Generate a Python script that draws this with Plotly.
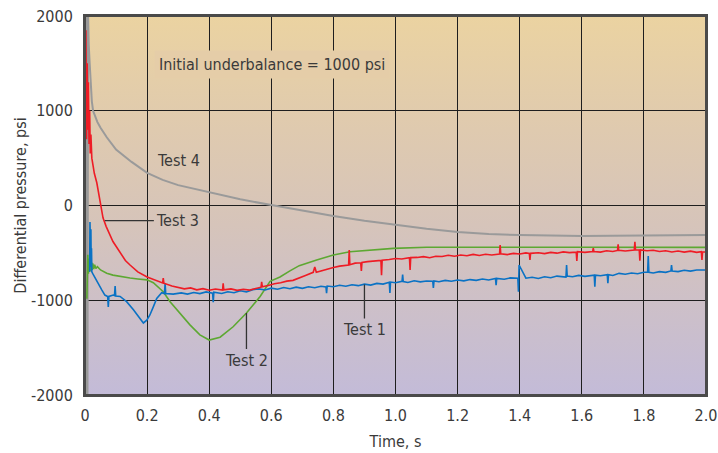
import base64
import plotly.graph_objects as go

# ---------------- data ----------------
x_tickvals = [0, 0.2, 0.4, 0.6, 0.8, 1.0, 1.2, 1.4, 1.6, 1.8, 2.0]
x_ticktext = ["0", "0.2", "0.4", "0.6", "0.8", "1.0", "1.2", "1.4", "1.6", "1.8", "2.0"]
y_tickvals = [-2000, -1000, 0, 1000, 2000]
y_ticktext = ["-2000", "-1000", "0", "1000", "2000"]

# Test 4 (gray)
test4_t = [0.0, 0.002, 0.004, 0.006, 0.008, 0.010, 0.012, 0.015, 0.018, 0.022, 0.026, 0.03,
           0.04, 0.05, 0.07, 0.1, 0.15, 0.2, 0.25, 0.3, 0.4, 0.5, 0.6, 0.7, 0.8, 0.9, 1.0,
           1.1, 1.2, 1.3, 1.4, 1.5, 1.6, 1.7, 1.8, 1.9, 2.0]
test4_v = [-2000, 2000, -2000, 2000, -2000, 2000, 1700, 1500, 1250, 1100, 1000, 960,
           880, 820, 720, 590, 460, 345, 270, 215, 140, 65, 5, -55, -110, -160, -205,
           -245, -280, -300, -312, -318, -322, -320, -318, -314, -312]

# Test 3 (red)
test3_t = [0.003, 0.005, 0.007, 0.009, 0.011, 0.013, 0.015, 0.017, 0.019, 0.022, 0.026, 0.03,
           0.038, 0.048, 0.058, 0.068, 0.08, 0.09, 0.1, 0.113, 0.13, 0.145, 0.17, 0.2, 0.225,
           0.25, 0.252, 0.254, 0.28,
           0.30, 0.32, 0.34, 0.36, 0.38, 0.40, 0.42, 0.443, 0.445, 0.447, 0.47, 0.49, 0.51,
           0.53, 0.55, 0.567, 0.569, 0.571, 0.59, 0.61, 0.63, 0.65, 0.67, 0.69, 0.71, 0.735,
           0.74, 0.745, 0.76, 0.78, 0.80, 0.82, 0.849, 0.851, 0.853, 0.87, 0.888, 0.89, 0.892,
           0.91, 0.93, 0.953, 0.955, 0.957, 0.98, 1.00, 1.02, 1.045, 1.047, 1.049, 1.07, 1.09,
           1.11, 1.13, 1.15, 1.17, 1.19, 1.21, 1.23, 1.25, 1.27, 1.29, 1.31, 1.335, 1.337,
           1.339, 1.36, 1.38, 1.40, 1.42, 1.431, 1.433, 1.435, 1.46, 1.48, 1.50, 1.52, 1.54,
           1.56, 1.582, 1.584, 1.586, 1.61, 1.635, 1.637, 1.639, 1.66, 1.68, 1.70, 1.715,
           1.717, 1.719, 1.74, 1.769, 1.771, 1.773, 1.785, 1.787, 1.789, 1.81, 1.83, 1.85,
           1.87, 1.89, 1.91, 1.93, 1.95, 1.97, 1.985, 1.987, 1.989, 2.0]
test3_v = [1850, 700, 1500, 800, 1300, 650, 1000, 550, 750, 500, 420, 340,
           240, 30, -130, -220, -310, -380, -430, -500, -580, -628, -700, -755, -790,
           -818, -765, -820, -850,
           -865, -880, -870, -890, -878, -895, -882, -893, -820, -890, -880, -896, -884,
           -893, -875, -862, -805, -858, -845, -825, -815, -798, -790, -760, -738, -705,
           -650, -705, -690, -668, -655, -640, -628, -470, -625, -608, -604, -690, -602,
           -592, -588, -580, -735, -578, -570, -560, -565, -552, -680, -550, -548, -540,
           -552, -535, -538, -525, -535, -522, -530, -516, -528, -515, -522, -512, -417,
           -510, -518, -505, -512, -500, -505, -575, -505, -498, -508, -495, -503, -490,
           -497, -492, -586, -488, -495, -485, -450, -485, -492, -478, -486, -474,
           -410, -472, -480, -470, -382, -470, -470, -583, -468, -478, -472, -485,
           -478, -490, -480, -492, -482, -495, -488, -575, -488, -490]

# Test 2 (green)
test2_t = [0.006, 0.009, 0.011, 0.013, 0.015, 0.017, 0.019, 0.021, 0.023, 0.025, 0.028, 0.031,
           0.035, 0.04, 0.05, 0.07, 0.09, 0.12, 0.145, 0.17, 0.2, 0.22, 0.252, 0.274, 0.306,
           0.338, 0.37, 0.40, 0.435, 0.477, 0.52, 0.564, 0.596, 0.628, 0.66, 0.69, 0.746,
           0.8, 0.853, 0.918, 0.993, 1.1, 1.26, 1.4, 1.6, 1.8, 2.0]
test2_v = [-985, -520, -720, -560, -700, -580, -690, -600, -680, -610, -670, -625,
           -665, -645, -680, -715, -735, -755, -765, -775, -785, -815, -910, -1015, -1135,
           -1260, -1365, -1420, -1390, -1280, -1135, -960, -800, -755, -690, -635, -575,
           -522, -488, -470, -452, -440, -437, -440, -440, -440, -442]

# Test 1 (blue)
test1_t = [0.015, 0.016, 0.018, 0.019, 0.020, 0.021, 0.022, 0.025, 0.032, 0.043, 0.054, 0.064,
           0.073, 0.075, 0.077, 0.091, 0.095, 0.097, 0.099, 0.113, 0.134, 0.156, 0.177, 0.188,
           0.199, 0.209, 0.22, 0.231, 0.247, 0.256, 0.258, 0.260, 0.284,
           0.31, 0.33, 0.35, 0.37, 0.39, 0.411, 0.413, 0.415, 0.44, 0.46, 0.48, 0.50, 0.52,
           0.54, 0.56, 0.58, 0.60, 0.62, 0.64, 0.66, 0.68, 0.70, 0.72, 0.74, 0.76, 0.776,
           0.778, 0.78, 0.80, 0.82, 0.84, 0.86, 0.88, 0.90, 0.92, 0.94, 0.96, 0.980, 0.982,
           0.984, 1.00, 1.021, 1.023, 1.025, 1.04, 1.06, 1.08, 1.10, 1.120, 1.122, 1.124,
           1.14, 1.16, 1.18, 1.20, 1.22, 1.24, 1.26, 1.28, 1.30, 1.322, 1.324, 1.326, 1.35,
           1.37, 1.394, 1.396, 1.398, 1.42, 1.44, 1.46, 1.48, 1.50, 1.52, 1.549, 1.551, 1.553,
           1.57, 1.59, 1.61, 1.640, 1.642, 1.644, 1.66, 1.682, 1.684, 1.686, 1.70, 1.72, 1.74,
           1.76, 1.78, 1.80, 1.812, 1.814, 1.816, 1.83, 1.85, 1.87, 1.887, 1.889, 1.891, 1.91,
           1.93, 1.95, 1.97, 2.0]
test1_v = [-700, -175, -520, -250, -650, -450, -700, -720, -765, -820, -890, -945,
           -960, -1070, -960, -945, -950, -850, -955, -960, -1015, -1100, -1190, -1240,
           -1210, -1155, -1070, -980, -920, -930, -820, -930, -935,
           -922, -935, -918, -930, -912, -925, -1020, -915, -928, -910, -920, -900, -912,
           -888, -880, -892, -872, -884, -866, -878, -862, -874, -858, -868, -852, -860,
           -925, -850, -858, -842, -852, -836, -846, -830, -840, -822, -830, -810, -922,
           -808, -815, -800, -730, -803, -812, -794, -806, -797, -800, -870, -796,
           -804, -790, -800, -787, -795, -782, -790, -776, -786, -770, -840, -770, -778,
           -764, -767, -910, -628, -767, -758, -770, -752, -762, -745, -755, -628, -745,
           -752, -738, -748, -735, -857, -735, -742, -730, -820, -730, -738, -716, -726,
           -712, -720, -705, -705, -533, -705, -712, -698, -706, -691, -628, -691, -698,
           -684, -692, -680, -680]

# annotation anchor points (points on the curves that the leader lines touch)
label_text = ["Test 4", "Test 3", "Test 2", "Test 1"]
label_x = [0.30, 0.064, 0.52, 0.90]
label_y = [480, -160, -1135, -835]

# ---------------- styling ----------------
FONT = "DejaVu Sans Condensed, DejaVu Sans, sans-serif"
TXT = "#3a3a3a"
FS = 16

svg = (
    '<svg xmlns="http://www.w3.org/2000/svg" width="100" height="100" preserveAspectRatio="none">'
    '<defs><linearGradient id="g" x1="0" y1="0" x2="0" y2="1">'
    '<stop offset="0" stop-color="#EBD3A1"/>'
    '<stop offset="0.3" stop-color="#DFCAAF"/>'
    '<stop offset="0.55" stop-color="#D6C4BA"/>'
    '<stop offset="1" stop-color="#C3BBD8"/>'
    '</linearGradient></defs>'
    '<rect x="0" y="0" width="100" height="100" fill="url(#g)"/></svg>'
)
bg_src = "data:image/svg+xml;base64," + base64.b64encode(svg.encode()).decode()

fig = go.Figure()
fig.add_trace(go.Scatter(x=test4_t, y=test4_v, mode="lines", line=dict(color="#9a9a9a", width=2),
                         name="Test 4", showlegend=False))
fig.add_trace(go.Scatter(x=test2_t, y=test2_v, mode="lines", line=dict(color="#5DA832", width=1.6),
                         name="Test 2", showlegend=False))
fig.add_trace(go.Scatter(x=test1_t, y=test1_v, mode="lines", line=dict(color="#0A72C4", width=1.6),
                         name="Test 1", showlegend=False))
fig.add_trace(go.Scatter(x=test3_t, y=test3_v, mode="lines", line=dict(color="#EE1C25", width=1.6),
                         name="Test 3", showlegend=False))

annots = [
    dict(x=0.602, y=1483, text="Initial underbalance = 1000 psi", showarrow=False,
         font=dict(size=FS, color=TXT, family=FONT), bgcolor="#E5CDA8", borderpad=4),
    dict(x=label_x[0], y=label_y[0], text=label_text[0], showarrow=False,
         font=dict(size=FS, color=TXT, family=FONT)),
    dict(x=label_x[1], y=label_y[1], text=label_text[1], showarrow=True, arrowhead=0,
         arrowwidth=1.3, arrowcolor="#333333", ax=73, ay=0, borderpad=2,
         font=dict(size=FS, color=TXT, family=FONT)),
    dict(x=label_x[2], y=label_y[2], text=label_text[2], showarrow=True, arrowhead=0,
         arrowwidth=1.3, arrowcolor="#333333", ax=0, ay=47, borderpad=1,
         font=dict(size=FS, color=TXT, family=FONT)),
    dict(x=label_x[3], y=label_y[3], text=label_text[3], showarrow=True, arrowhead=0,
         arrowwidth=1.3, arrowcolor="#333333", ax=0, ay=45, borderpad=1,
         font=dict(size=FS, color=TXT, family=FONT)),
]

fig.update_layout(
    width=718, height=453,
    margin=dict(l=85, r=12, t=16, b=58, autoexpand=False),
    paper_bgcolor="white",
    plot_bgcolor="rgba(0,0,0,0)",
    font=dict(family=FONT, size=FS, color=TXT),
    images=[dict(source=bg_src, xref="x", yref="y", x=0, y=2000, sizex=2.0, sizey=4000,
                 xanchor="left", yanchor="top", sizing="stretch", layer="below")],
    annotations=annots,
    shapes=[dict(type="rect", xref="paper", yref="paper", x0=0, x1=1, y0=0, y1=1,
                 line=dict(color="#4a4a4a", width=2), fillcolor="rgba(0,0,0,0)", layer="above")],
    xaxis=dict(range=[0, 2.0], tickvals=x_tickvals, ticktext=x_ticktext, automargin=False,
               showgrid=True, gridcolor="#1e1e1e", gridwidth=1.3, zeroline=False,
               showline=True, mirror=True, linecolor="#4a4a4a", linewidth=2,
               ticks="", ticklabelstandoff=5, ticklabeloverflow="allow",
               title=dict(text="Time, s", standoff=12, font=dict(size=FS, family=FONT, color=TXT)),
               tickfont=dict(size=FS, family=FONT, color=TXT)),
    yaxis=dict(range=[-2000, 2000], tickvals=y_tickvals, ticktext=y_ticktext, automargin=False,
               showgrid=True, gridcolor="#1e1e1e", gridwidth=1.3, zeroline=False,
               showline=True, mirror=True, linecolor="#4a4a4a", linewidth=2,
               ticks="", ticklabelstandoff=7, ticklabeloverflow="allow",
               title=dict(text="Differential pressure, psi", standoff=0,
                          font=dict(size=FS, family=FONT, color=TXT)),
               tickfont=dict(size=FS, family=FONT, color=TXT)),
)

fig.write_html(
    "out.html",
    config={"displayModeBar": False},
    post_script="document.body.style.margin='0px';document.body.style.overflow='hidden';",
)
